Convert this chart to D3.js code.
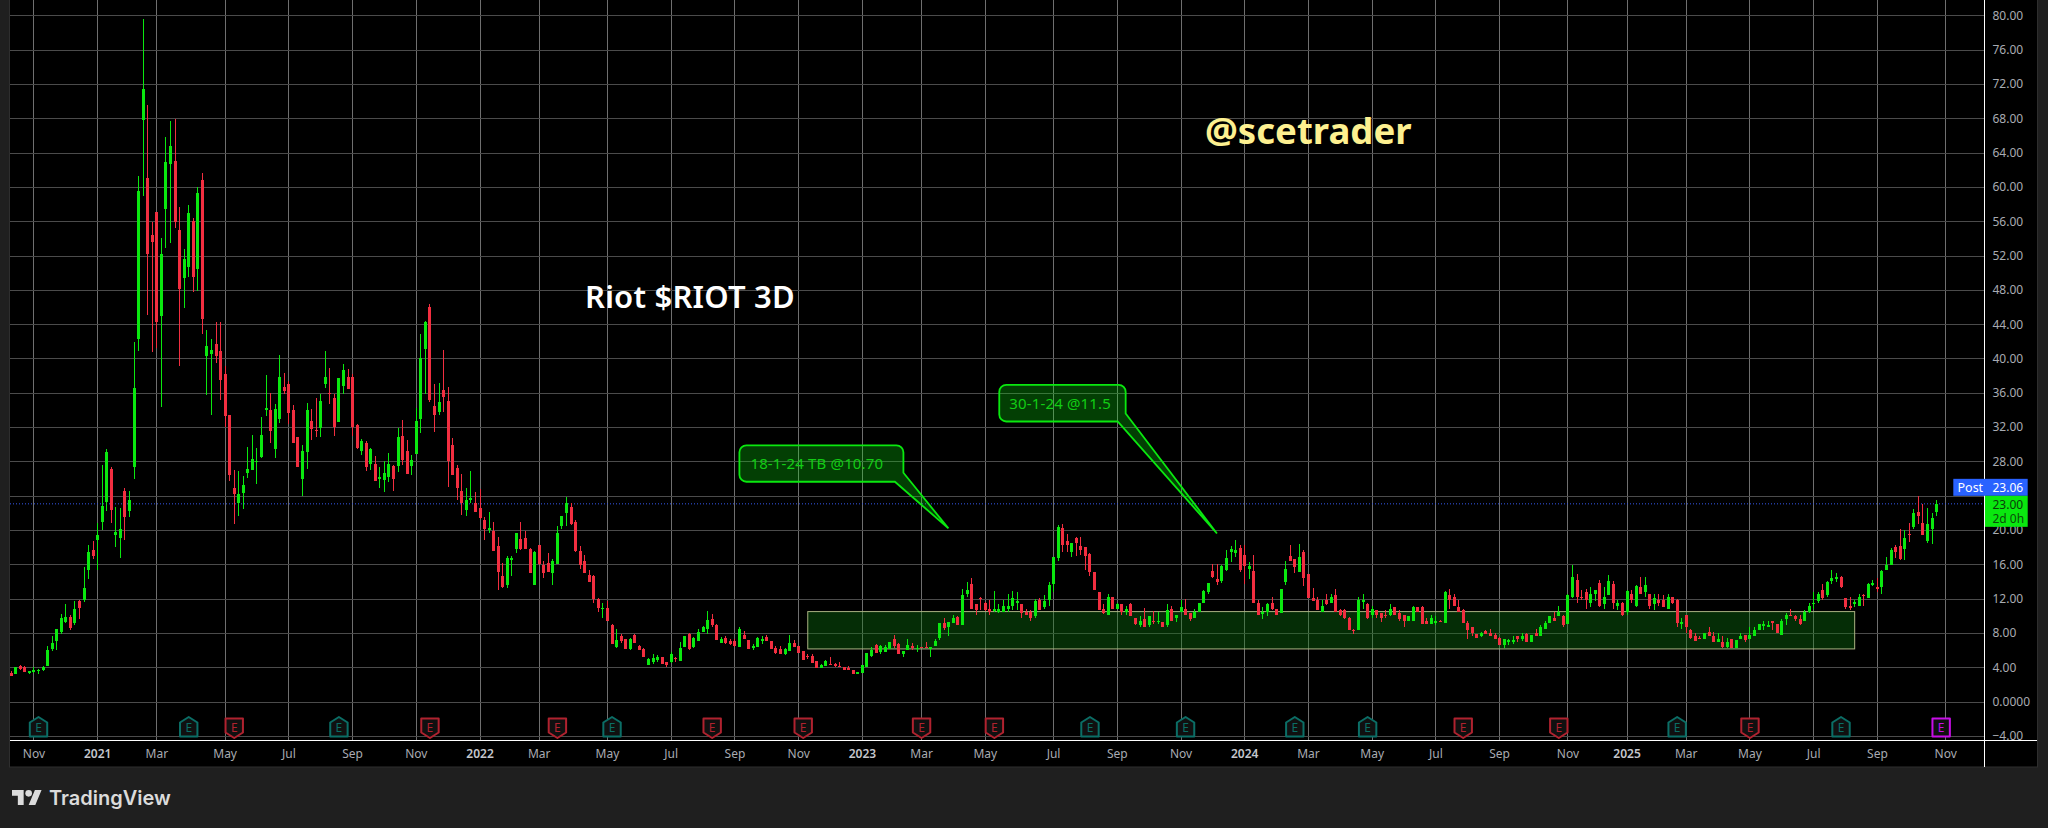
<!DOCTYPE html>
<html>
<head>
<meta charset="utf-8">
<script src="https://cdn.jsdelivr.net/npm/d3@7"></script>
<style>
    html, body { margin: 0; padding: 0; background: #1f1f1f; }
    svg { display: block; }
    text { font-family: "Noto Sans", sans-serif; }
</style>
</head>
<body>
<svg id="chart"></svg>
<script>
// 3-day candles, ten bars per line
const opens = [
    3.34,3.26,4.2,4.08,3.5,3.62,3.65,3.7,4.2,6.1,
    7.1,8.1,9.25,9.9,9.15,11.75,11.9,15.4,17.65,18.8,
    20.9,23.25,27.1,19.4,19.05,24.6,22.2,27.35,42.3,67.8,
    61,54.4,57.1,45,57.4,62.7,63,55,49.4,50.7,
    56,50.4,60.8,40.3,40.5,41.7,40.9,38.2,33.4,24.9,
    23.2,24.35,26.7,27,28,28.5,34,34,29.4,33,
    36.7,37,34,30.8,26,29.1,32.7,31.7,31.9,37,
    36,35.4,32.6,36.8,37.9,37.9,32.2,29.2,30.1,27.7,
    27.7,26.05,25.8,26.15,27.45,27.45,30.95,29.2,27.45,28.85,
    32.95,41.15,46.05,34.45,33.75,36.35,35.05,29.9,27.2,24.6,
    22.3,23.6,23.1,22.55,21.2,20,19.95,18.1,14.6,13.65,
    16.5,17.75,19,19.1,17.75,13.65,18.3,15.9,16.2,14.95,
    16.1,20.5,21.95,22.7,20.9,17.6,16.45,14.8,14.6,12,
    10.85,10.9,8.95,6.4,7.65,7.3,6.15,7.8,6.5,6.15,
    4.3,4.6,4.85,5.2,4.6,4.6,5.1,4.75,6.4,7.9,
    6.4,7.1,8.15,8.5,9.65,8.95,6.85,7.45,7.1,7.1,
    6.4,7.8,7.2,6.35,6.4,7.15,7.55,7.1,6.25,6.15,
    5.55,5.9,6.85,6.5,5.9,5.35,5.3,4.7,3.95,4.2,
    4.45,4.4,4.2,4.1,3.9,3.75,3.35,3.4,4,5.3,
    6.6,5.8,5.8,6.15,7.3,6.75,5.55,6.05,6.45,6.2,
    6.4,6.4,6.25,6.5,7.45,9.2,8.7,9.2,9.9,8.95,
    12.6,13.7,11.35,12.1,11.55,10.75,10.7,10.45,10.5,10.85,
    11.2,11.45,11.35,10.5,10.5,9.95,11.8,11,11.9,13.7,
    16.75,20.25,18.7,17.45,19.05,18.15,18,17.2,15.1,12.75,
    10.85,10.15,12.15,10.85,11.35,10.4,11.35,9.7,8.9,9.6,
    8.9,9.45,9.35,9.25,8.9,10.85,9.8,10.4,10.85,10.35,
    9.75,10.5,11.55,12.75,15.2,14.25,14.05,15.3,17.45,17.3,
    17.9,17.1,15.45,15.2,11.45,10.3,10.4,11.45,10.85,10.3,
    13.9,16.95,16.6,15.1,17.45,14.85,12.05,11.8,10.5,11.8,
    11.45,12.4,10.65,10.65,9.8,8.4,8.4,11.75,11.35,10.05,
    10.65,10.3,10.15,10.05,11,10.3,10.05,9.35,9.45,11,
    11,9.45,9,9.3,9.45,9.2,12.4,12.25,11,10.65,
    9.2,8.65,7.85,7.6,8.2,8.05,7.8,7.45,6.65,7,
    7.05,7.6,7.25,7.85,6.9,8.05,7.6,8.5,9.2,9.8,
    9.95,9.95,9,12.15,14.15,12.25,12.75,11.45,12.5,13.8,
    11.35,12.4,13.7,11.2,11.55,10.4,12.6,11.2,13.35,12.75,
    12.6,11.35,11.8,11.9,10.85,12.15,11.9,9.15,10.05,8.3,
    7.6,7.45,7.35,8.15,7.7,7,7,6.4,7.35,6.3,
    7.25,7.8,7.35,7.6,8.4,8.9,8.8,9.35,9.1,7.8,
    9.6,10.15,9.95,9.6,9.35,10.4,11.45,11.7,13,12.4,
    14.05,14.25,14.5,12.05,11.15,11.5,11.2,12.45,12.05,13.7,
    13.35,13.35,15.3,15.9,18,18.15,17.8,19.6,20.35,22.1,
    20.85,18.7,20.1,22.1
];
const highs = [
    3.57,4.1,4.25,4.15,3.55,4,3.8,4.15,6.45,7.65,
    8.5,10.25,11.4,10.1,11.75,11.9,15.7,18.3,18.75,20.8,
    27.6,29.5,27.35,22.7,22.55,24.9,24.55,41.9,61.3,79.6,
    69.6,55.9,57.1,54.1,65.8,67.7,67.9,57.6,52.8,57.9,
    56.4,60,61.6,43.3,42.3,44.3,44.2,39.1,33.4,27,
    26.9,26.3,29.7,31.1,29.6,33.2,38.1,36,34.7,40.4,
    38.3,37.4,34.6,30.8,29.9,34.8,34.1,35.4,35.9,40.9,
    38.9,35.9,37.7,39.4,38.8,38.2,32.4,30.6,30.4,29.55,
    28.6,27.3,28.1,29,27.55,31.9,32.8,30.5,28.7,34.2,
    42.9,44.4,46.4,37,37.15,41,36.7,30.7,27.55,26.5,
    24.85,26.85,24.4,24.8,21.5,22.15,21,19.25,16.2,17,
    17,19.7,20.9,19.95,17.95,17.6,18.3,16.35,17.3,16.6,
    20.5,21.7,23.85,23.15,21.15,18.1,17.05,15.3,14.8,12.1,
    11.55,11.75,9,8.5,7.9,7.3,7.45,7.9,6.6,6.25,
    5.05,5.55,5.45,5.25,4.6,5.8,5.2,7,7.65,8,
    7.55,8.5,8.8,10.6,10.25,9,7.55,7.65,7.3,7.3,
    8.75,8.25,7.2,6.75,7.5,7.65,7.8,7.1,6.5,6.5,
    6.2,7.8,7.2,6.5,5.9,5.55,5.55,4.7,4.45,4.85,
    5.2,4.5,4.6,4.1,4.2,3.75,3.5,4.25,5.7,6.4,
    6.75,6.55,6.6,7,7.8,6.8,5.95,7.3,6.85,6.6,
    6.4,6.9,6.4,7.3,9.2,9.8,9.3,10.15,10,13.15,
    13.9,14.45,11.4,12.15,11.6,11.8,12.85,11.35,11.8,12.6,
    12.85,12.75,11.4,10.85,10.65,12,12.05,12.4,13.9,16.85,
    20.6,20.7,19.55,18.5,19.2,19.2,18,17.3,15.1,12.75,
    11.35,12.5,12.25,11.55,11.35,11.2,11.55,9.8,9.95,10.9,
    9.95,10.6,10.4,9.25,11.35,11.2,10.15,11.9,12,10.35,
    10.85,11.55,13,13.8,16,16,15.9,17.65,18.15,18.85,
    18.25,18.25,16.25,17.1,11.8,11,11.55,12.15,10.85,13.1,
    16.4,18.25,16.6,18.35,17.65,14.85,13.2,12.15,11.8,12.5,
    12.6,13.1,10.85,10.75,9.85,8.45,12.15,12.6,11.45,11.2,
    10.7,10.3,10.65,11.35,11,10.65,10.15,9.95,11.2,11,
    11.1,9.7,10.05,9.95,9.5,12.85,13.1,12.5,11.9,10.85,
    9.45,8.65,7.9,8.15,8.4,8.5,8.05,7.5,7.25,7.25,
    7.6,7.6,8.05,8.05,7.8,8.5,8.9,9.45,9.95,10.4,
    11.2,10.15,12.6,15.9,14.85,13,13.1,13.35,13,14.15,
    13.35,14.75,14.05,11.8,11.6,13,13,13.55,14.5,14.5,
    12.6,12.5,12.5,12.4,12.5,12.2,11.95,9.7,10.15,8.5,
    7.95,7.6,8,8.75,8.15,8.05,7.7,7.45,7.35,7.15,
    8.05,7.8,8.75,8.65,9.1,9.45,9.35,9.45,9.1,9.6,
    10.3,10.85,10.15,10.15,10.65,11.55,12.75,12.75,13.7,14.05,
    15.3,14.95,14.6,12.05,12.25,11.8,12.5,12.5,13.8,14.15,
    14.45,15.3,16.85,17.9,18.25,20.1,20,20.85,22.45,24,
    23.05,22.6,22,23.5
];
const lows = [
    3,3.2,3.75,3.45,3.25,3.4,3.25,3.6,4.15,5.95,
    6,7.9,9.15,8.35,8.95,9.65,11.65,14.25,16.6,15.4,
    20,22.2,20.8,18,16.8,18.8,21.5,26,40.9,58.9,
    45.1,40.7,41.2,34.4,52.9,53.5,55.2,39.1,45.9,49.5,
    47.8,47.9,42.9,35.8,33.4,39.5,35.2,32,25.7,20.7,
    21.7,22.5,26.1,27,25.4,28.4,33.3,30.1,28.4,32.5,
    35.9,32.4,30.1,27.3,24,27.1,30.5,30.9,30.9,36.6,
    34.7,31,32.6,35.9,36.4,31,29.5,28.7,26.85,27,
    25.7,24.85,24.4,25.55,24.6,26.75,27.55,26.5,26.4,28.85,
    31.3,35.9,34.9,31.4,33.4,33.75,25,26.4,23.55,21.8,
    21.7,23.1,22.15,21.25,18.9,19.7,17.55,13,13.3,13.2,
    14.7,17.3,17.7,17.75,15.05,13.65,15.9,14.45,15.15,13.65,
    16.1,20.1,20.45,20.55,17.5,15.5,14.95,13.9,11.55,10.45,
    9.7,9.45,6.75,6.25,6.85,6.15,6.05,6.85,6.05,5.15,
    4.3,4.4,4.6,4.45,4.1,4.5,4.6,4.75,6.35,6.05,
    6.25,7.1,8.15,7.9,8.7,7.2,6.85,6.7,6.6,6.4,
    6.4,7.3,6.15,6.05,6.4,6.7,7.1,6.15,5.55,5.55,
    5.45,5.9,6.4,5.7,4.85,5,4.5,3.95,3.95,4.15,
    4.3,4.1,4.05,3.75,3.75,3.2,3.3,3.4,4,5.2,
    5.7,5.55,5.8,6.15,6.25,5.55,5.2,6.05,6.05,5.8,
    6.2,6.2,5.2,6.5,7.2,8.4,7.65,9.2,8.9,8.9,
    12.15,10.75,10.05,10.65,10.6,10.15,10.5,10.35,10.5,10.5,
    10.65,10.65,9.7,10.05,9.35,9.8,10.65,10.85,11.2,12.75,
    16.4,17.45,17.45,16.85,16.95,17.1,15.3,14.6,13,10.65,
    10.2,10.05,10.8,10.8,10.15,10.15,9.95,8.9,8.75,8.65,
    8.65,9.1,9,8.65,8.75,9.45,9.25,10.4,10.05,9.35,
    9.75,10.5,11.55,12.55,14.4,13.55,13.8,15.25,16.25,16.85,
    15.1,13.75,14.25,11.55,10.15,9.6,9.95,10.7,10.15,10.3,
    13.55,16.4,14.95,15.1,13.45,12.05,11.7,10.7,10.45,11.3,
    11.45,10.5,10,9.6,8.4,7.9,8.4,10.85,9.6,9.7,
    9.8,9.25,9.7,9.95,10.05,9.45,8.75,9.35,9.45,10.4,
    9,9.1,9,8.9,9.3,9.2,10.85,11.2,10.5,9.2,
    7.25,7.6,7.4,7.55,7.85,7.7,7.35,6.55,6.3,6.65,
    6.75,6.9,7.1,6.9,6.9,7.7,7.6,8.5,9.2,9.35,
    9.95,8.65,9,12.05,11.45,11.9,10.85,11,11.7,11,
    10.75,12.4,10.75,10.65,9.95,10.15,11.45,11,12.5,12.25,
    10.75,10.65,11.2,11,10.85,11.35,8.65,8.5,7.95,7.35,
    7.1,7.3,7.35,7.7,6.9,7,6.3,6.2,6.2,6.2,
    7.25,6.9,7.35,7.6,8.3,8.4,8.65,8.4,7.95,7.8,
    8.9,9.95,9.35,8.9,9.35,10.3,10.85,11.45,11.9,12.25,
    13.7,13.9,13.2,10.85,10.65,11,11.1,11.2,12.05,13.45,
    12.8,12.6,15.3,15.9,16.7,16.5,16.5,18.6,20.1,20.7,
    19.4,18.5,18.35,21.65
];
const closes = [
    3.02,4,3.8,3.5,3.55,3.68,3.7,4.1,6,6.85,
    8.5,9.8,9.9,8.6,10.85,10.95,13.2,17.4,16.95,19.4,
    22.8,29.1,22.3,19.75,20.1,21.5,23.5,36.6,59.5,71.4,
    52.2,53.6,44.3,52.2,62.9,64.8,55.9,48.1,51.6,57,
    49.5,59.3,44.6,41.4,41,40.3,37.5,33.3,26.4,24.2,
    24.2,25.2,27.1,28.3,28.1,31.1,34.2,31.6,34.1,37.9,
    36.2,33.7,30.1,27.3,29.2,34,31.8,31.5,35.1,37.9,
    35.9,32,37.7,38.7,36.5,32,29.6,30.4,27.4,29.4,
    25.7,26.15,26.6,27.7,26,30.85,28.15,26.5,28.15,32.7,
    40,44.3,35.2,33.4,34.95,35.5,28,26.4,24.85,23.1,
    23.55,23.7,22.15,21.45,20.1,20.3,17.55,15.15,13.4,16.8,
    16.75,19.7,17.85,17.75,15.05,17.4,16,15.05,15.15,16.45,
    19.7,21.7,23.2,20.75,17.6,15.9,14.95,13.9,12,10.95,
    10.95,9.45,6.75,7.2,7.1,6.15,7.3,6.85,6.05,5.15,
    4.95,5.1,5.2,4.45,4.3,5.55,5,6.25,7.65,6.15,
    7.45,8.15,8.75,9.55,8.95,7.2,7.3,6.85,6.75,6.5,
    8.5,7.3,6.15,6.45,7.45,7.25,7.1,6.15,5.7,5.55,
    6.15,6.85,6.4,5.7,4.85,5.25,4.5,3.95,4.3,4.7,
    4.3,4.15,4.1,3.75,3.75,3.2,3.45,4.25,5.7,6.05,
    5.7,6.5,6.4,6.95,6.5,5.55,5.9,6.6,6.35,6.3,
    6.25,6.25,6.35,7.1,9.2,8.6,9.3,9.8,8.95,12.4,
    13,10.75,10.65,12,10.65,10.5,10.8,10.85,11.1,11.2,
    12.05,11.7,10.3,10.15,9.8,11.7,10.65,11.7,13.55,16.85,
    20.35,18.25,18.25,18.5,18.5,17.65,16.95,15.1,13,10.65,
    10.3,12.25,10.85,11.35,10.5,10.75,9.95,9.1,9.45,8.65,
    9.95,9.35,9.45,8.65,10.65,9.45,10.15,11,10.05,9.6,
    10.5,11.55,12.85,13.8,14.5,13.9,15.8,16.75,17.8,17.65,
    15.3,15.8,15.8,11.55,10.15,10.4,11.35,10.75,10.15,13.1,
    15.45,16.4,15.65,16.85,14.4,12.05,11.7,10.7,11.1,11.35,
    12.25,10.5,10.05,9.7,8.4,8.35,11.8,11.85,9.7,10.75,
    10.15,9.7,9.95,10.75,10.15,9.6,9.45,9.95,11,10.4,
    9.1,9.1,9.7,9.4,9.35,12.75,11.9,11.2,10.5,9.2,
    8.3,7.95,7.45,8.05,7.85,7.7,7.35,6.55,7.25,7.15,
    7.15,7.25,7.7,6.9,7.8,7.7,8.75,9.2,9.95,9.45,
    10.5,8.9,12.4,14.5,12.25,12.15,11.9,12.6,13,11.1,
    12.25,14.05,11.45,11.55,10.05,12.85,11.9,13.45,12.6,13.55,
    11.1,12.05,11.45,11,12.25,11.45,9.2,9.25,8.75,7.45,
    7.1,7.35,7.95,7.7,7,7.25,6.4,7,6.2,7.15,
    7.7,7.15,7.8,8.4,9,9.05,8.9,9.25,7.95,9.45,
    10.15,10.05,9.6,9.1,10.5,11.2,11.55,12.6,12.05,13.9,
    14.4,14.5,13.35,11,11.05,11.6,12.25,12.35,13.7,13.8,
    13.1,15.2,15.9,17.65,17.45,16.6,19.05,19.45,22,21.65,
    19.4,20.7,21.4,23.05
];

// Time axis, positions given as bar numbers
const tickBars = [5,19,32,47,61,75,89,103,116,131,145,159,173,187,200,214,229,243,257,271,285,299,313,327,342,355,368,382,396,410,425];
const tickLabels = ["Nov","2021","Mar","May","Jul","Sep","Nov","2022","Mar","May","Jul","Sep","Nov","2023","Mar","May","Jul","Sep","Nov","2024","Mar","May","Jul","Sep","Nov","2025","Mar","May","Jul","Sep","Nov"];
const priceTicks = d3.range(-4, 81, 4);

// Earnings flags
const earningsBars = [6,39,49,72,92,120,132,154,174,200,216,237,258,282,298,319,340,366,382,402,424];
const earningsKinds = ["up","up","down","up","down","down","up","down","down","down","down","up","up","up","up","down","down","up","down","up","next"];

// Support zone and callouts
const zoneBars = [175, 405];
const zonePrices = [6.15, 10.5];
const calloutTexts = ["18-1-24 TB @10.70", "30-1-24 @11.5"];
const calloutTipBars = [205.9, 264.9];
const calloutTipPrices = [20.2, 19.6];

const postPrice = 23.06;

const green = "#0ae80f", red = "#f22e40";

document.addEventListener('DOMContentLoaded', () => {
    drawChart();
});

function drawChart() {
    const width = 2048, height = 828;
    const plotLeft = 10, plotRight = 1984.5, plotBottom = 740, panelRight = 2037, panelBottom = 767;

    const svg = d3.select("#chart").attr("width", width).attr("height", height);

    const x = d3.scaleLinear().domain([0, 423]).range([11.2, 1936.6]);
    const y = d3.scaleLinear().domain([-4, 80]).range([736, 15.3]);

    // Panel
    svg.append("rect").attr("width", width).attr("height", height).attr("fill", "#1f1f1f");
    svg.append("rect")
        .attr("x", plotLeft - 0.5).attr("y", -2)
        .attr("width", panelRight - plotLeft + 1).attr("height", panelBottom + 2)
        .attr("fill", "#000").attr("stroke", "#2e2e2e");

    // Vertical grid and time labels, the axis draws both
    const clipLeft = svg.append("defs").append("clipPath").attr("id", "plot-clip");
    clipLeft.append("rect").attr("x", plotLeft).attr("y", 0).attr("width", plotRight - plotLeft).attr("height", plotBottom);

    const xAxis = d3.axisBottom(x)
        .tickValues(tickBars)
        .tickFormat((d, i) => tickLabels[i])
        .tickSizeInner(-plotBottom)
        .tickSizeOuter(0)
        .tickPadding(7);
    const xAxisG = svg.append("g")
        .attr("transform", `translate(-0.5, ${plotBottom})`)
        .call(xAxis);
    xAxisG.select(".domain").remove();
    xAxisG.selectAll(".tick line").attr("stroke", "#6f6f6f").attr("shape-rendering", "crispEdges");
    xAxisG.selectAll(".tick text")
        .attr("fill", d => tickLabels[tickBars.indexOf(d)].startsWith("20") ? "#c4c6cc" : "#a8abb2")
        .attr("font-weight", d => tickLabels[tickBars.indexOf(d)].startsWith("20") ? 600 : 400)
        .style("font-size", "12px")
        .attr("y", 9);

    // Horizontal grid and price labels; the 24.00 label sits hidden behind the price tags
    const yAxis = d3.axisRight(y)
        .tickValues(priceTicks)
        .tickFormat(d => d === 24 ? "" : d === 0 ? "0.0000" : (d < 0 ? "\u2212" + Math.abs(d).toFixed(2) : d.toFixed(2)))
        .tickSizeInner(-(plotRight - plotLeft))
        .tickSizeOuter(0)
        .tickPadding(8);
    const yAxisG = svg.append("g")
        .attr("transform", `translate(${plotRight}, 0)`)
        .call(yAxis);
    yAxisG.select(".domain").remove();
    yAxisG.selectAll(".tick line").attr("stroke", "#4b4b4b").attr("shape-rendering", "crispEdges");
    yAxisG.selectAll(".tick text").attr("fill", "#a8abb2").style("font-size", "12px").attr("x", 8);

    // Post market price line
    svg.append("line")
        .attr("x1", plotLeft).attr("x2", plotRight)
        .attr("y1", y(postPrice)).attr("y2", y(postPrice))
        .attr("stroke", "#3558ee").attr("stroke-dasharray", "1 2");

    // Zone
    svg.append("rect")
        .attr("x", x(zoneBars[0])).attr("y", y(zonePrices[1]))
        .attr("width", x(zoneBars[1]) - x(zoneBars[0]))
        .attr("height", y(zonePrices[0]) - y(zonePrices[1]))
        .attr("fill", "#0d7a10").attr("fill-opacity", 0.37)
        .attr("stroke", "#aab282").attr("stroke-width", 1);

    // Candles
    const snap = v => Math.round(v - 0.5) + 0.5;
    const bars = svg.append("g").attr("clip-path", "url(#plot-clip)").attr("shape-rendering", "crispEdges");
    const candle = bars.selectAll("g")
        .data(opens.map((o, i) => i))
        .enter().append("g")
        .attr("fill", i => closes[i] >= opens[i] ? green : red);
    candle.append("rect")
        .attr("x", i => snap(x(i)) - 0.5)
        .attr("y", i => y(highs[i]))
        .attr("width", 1)
        .attr("height", i => y(lows[i]) - y(highs[i]));
    candle.append("rect")
        .attr("x", i => snap(x(i)) - 1.5)
        .attr("y", i => y(Math.max(opens[i], closes[i])))
        .attr("width", 3)
        .attr("height", i => Math.max(1.5, Math.abs(y(opens[i]) - y(closes[i]))));

    // Callouts, box measured from the tip
    const calloutLayouts = [
        { left: -209, top: -83, w: 164, h: 36.4, edgeY: 27.4, baseX: 155.5, textX: 11 },
        { left: -217.7, top: -148.6, w: 126.4, h: 36.6, edgeY: 28.6, baseX: 118.4, textX: 10 }
    ];
    calloutTexts.forEach((label, i) => {
        const l = calloutLayouts[i];
        const tipX = x(calloutTipBars[i]), tipY = y(calloutTipPrices[i]);
        const bx = tipX + l.left, by = tipY + l.top, r = 7;
        const p = d3.path();
        p.moveTo(bx + r, by);
        p.lineTo(bx + l.w - r, by);
        p.arcTo(bx + l.w, by, bx + l.w, by + r, r);
        p.lineTo(bx + l.w, by + l.edgeY);
        p.lineTo(tipX, tipY);
        p.lineTo(bx + l.baseX, by + l.h);
        p.lineTo(bx + r, by + l.h);
        p.arcTo(bx, by + l.h, bx, by + l.h - r, r);
        p.lineTo(bx, by + r);
        p.arcTo(bx, by, bx + r, by, r);
        p.closePath();
        svg.append("path")
            .attr("d", p.toString())
            .attr("fill", "#0ae80f").attr("fill-opacity", 0.27)
            .attr("stroke", green).attr("stroke-width", 1.8);
        svg.append("text")
            .attr("x", bx + l.textX).attr("y", by + l.h / 2 + 5.5)
            .attr("fill", "#12cc14")
            .style("font-size", "15px")
            .style("letter-spacing", "0.15px")
            .text(label);
    });

    // Earnings flags
    const flags = svg.append("g");
    const flagColors = { up: "#0b6e66", down: "#b0222f", next: "#c80ee8" };
    earningsBars.forEach((bar, i) => {
        const kind = earningsKinds[i];
        const cx = x(bar), w = 8.7;
        const top = 718.5, bottom = 736.5;
        let pts;
        if (kind === "up") {
            pts = [[cx, top - 1.5], [cx + w, top + 4], [cx + w, bottom], [cx - w, bottom], [cx - w, top + 4]];
        } else if (kind === "down") {
            pts = [[cx - w, top], [cx + w, top], [cx + w, bottom - 4], [cx, bottom + 1.5], [cx - w, bottom - 4]];
        } else {
            pts = [[cx - w, top], [cx + w, top], [cx + w, bottom], [cx - w, bottom]];
        }
        flags.append("polygon")
            .attr("points", pts.map(q => q.join(",")).join(" "))
            .attr("fill", "#101010")
            .attr("stroke", flagColors[kind])
            .attr("stroke-width", 2)
            .attr("stroke-linejoin", "round");
        flags.append("text")
            .attr("x", cx).attr("y", 732)
            .attr("text-anchor", "middle")
            .attr("fill", flagColors[kind])
            .style("font-size", "12px")
            .text("E");
    });

    // Free text on the chart
    svg.append("text")
        .attr("x", 585).attr("y", 308)
        .attr("fill", "#fff")
        .attr("font-weight", 600)
        .style("font-size", "31px")
        .style("letter-spacing", "0.2px")
        .text("Riot $RIOT 3D");
    svg.append("text")
        .attr("x", 1205).attr("y", 144)
        .attr("fill", "#fdf090")
        .attr("font-weight", 700)
        .style("font-size", "36.6px")
        .text("@scetrader");

    // Axis border lines
    svg.append("line").attr("x1", plotLeft).attr("x2", panelRight).attr("y1", plotBottom + 0.5).attr("y2", plotBottom + 0.5).attr("stroke", "#fff");
    svg.append("line").attr("x1", plotRight).attr("x2", plotRight).attr("y1", 0).attr("y2", panelBottom).attr("stroke", "#fff");

    // Price labels on the right
    const labelRight = 2027.7;
    svg.append("rect").attr("x", 1953.3).attr("y", y(postPrice) - 25).attr("width", labelRight - 1953.3).attr("height", 17).attr("fill", "#2962ff");
    svg.append("text").attr("x", 1957.5).attr("y", y(postPrice) - 12).attr("fill", "#fff").style("font-size", "12.5px").text("Post");
    svg.append("text").attr("x", 1992.5).attr("y", y(postPrice) - 12).attr("fill", "#fff").style("font-size", "12px").text(postPrice.toFixed(2));
    svg.append("rect").attr("x", plotRight + 0.5).attr("y", y(postPrice) - 8).attr("width", labelRight - plotRight - 0.5).attr("height", 31).attr("fill", "#0ae80f");
    svg.append("text").attr("x", 1992.5).attr("y", y(postPrice) + 5).attr("fill", "#0a3d0a").style("font-size", "12px").text("23.00");
    svg.append("text").attr("x", 1992.5).attr("y", y(postPrice) + 19).attr("fill", "#0a4d0a").style("font-size", "12px").text("2d 0h");

    // Footer logo
    svg.append("path")
        .attr("transform", "translate(12, 786.7) scale(0.833)")
        .attr("d", "M14 22H7V11H0V4h14v18zM28 22h-8l7.5-18h8L28 22z")
        .attr("fill", "#dbdbdb");
    svg.append("circle")
        .attr("transform", "translate(12, 786.7) scale(0.833)")
        .attr("cx", 20).attr("cy", 8).attr("r", 4)
        .attr("fill", "#dbdbdb");
    svg.append("text")
        .attr("x", 49).attr("y", 805)
        .attr("fill", "#dbdbdb")
        .attr("font-weight", 600)
        .style("font-size", "20px")
        .style("font-family", "Inter, sans-serif")
        .text("TradingView");
}
</script>
</body>
</html>
